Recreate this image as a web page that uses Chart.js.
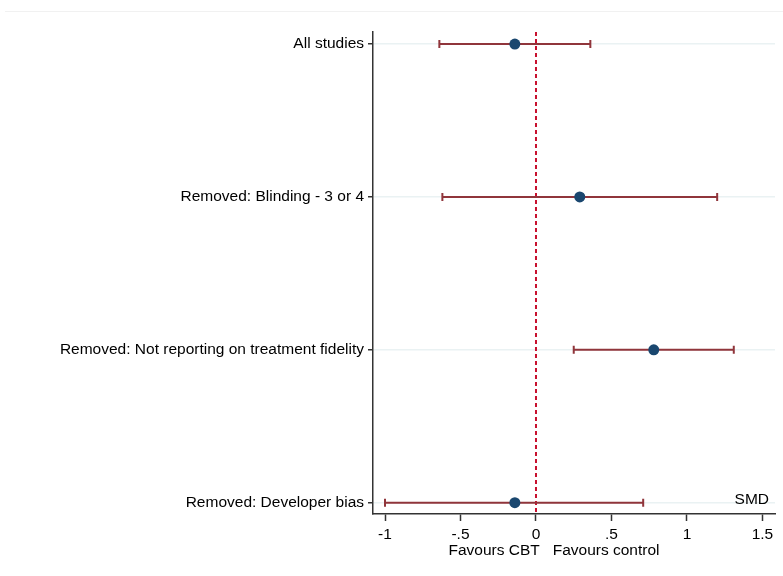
<!DOCTYPE html>
<html>
<head>
<meta charset="utf-8">
<script src="https://cdn.jsdelivr.net/npm/chart.js@4/dist/chart.umd.min.js"></script>
<style>
  html, body { margin: 0; padding: 0; background: #ffffff; }
  #wrap { width: 783px; height: 576px; position: relative; }
</style>
</head>
<body>
<div id="wrap"><canvas id="forest" width="783" height="576"></canvas></div>
<script>
// Sensitivity analyses: pooled standardised mean difference with 95% CI
const studyLabels = [
  'All studies',
  'Removed: Blinding - 3 or 4',
  'Removed: Not reporting on treatment fidelity',
  'Removed: Developer bias'
];
const smd    = [-0.14, 0.29, 0.78, -0.14];
const ciLow  = [-0.64, -0.62, 0.25, -1.00];
const ciHigh = [0.36, 1.20, 1.31, 0.71];

const xTickValues = [-1, -0.5, 0, 0.5, 1, 1.5];
const xTickLabels = ['-1', '-.5', '0', '.5', '1', '1.5'];
const xTitle = 'Favours CBT   Favours control';
const effectLabel = 'SMD';

const FONT = "'Liberation Sans', Arial, Helvetica, sans-serif";
const COL_POINT = '#1a476f';
const COL_CI = '#90353b';
const COL_NULL = '#c8102e';
const COL_GRID = '#eaf2f3';
const COL_AXIS = '#333333';

const rows = studyLabels.map((_, i) => i + 1);

const forestPlugin = {
  id: 'forestMarks',
  beforeDraw(chart) {
    const ctx = chart.ctx;
    ctx.save();
    ctx.fillStyle = '#ffffff';
    ctx.fillRect(0, 0, chart.width, chart.height);
    ctx.strokeStyle = '#f1f1f1';
    ctx.lineWidth = 1;
    ctx.beginPath();
    ctx.moveTo(5, 11.5);
    ctx.lineTo(chart.width, 11.5);
    ctx.stroke();
    ctx.restore();
  },
  beforeDatasetsDraw(chart) {
    const ctx = chart.ctx;
    const xs = chart.scales.x, ys = chart.scales.y;
    const area = chart.chartArea;
    ctx.save();
    // null-effect reference line
    const x0 = xs.getPixelForValue(0);
    ctx.strokeStyle = COL_NULL;
    ctx.lineWidth = 2;
    ctx.setLineDash([4, 3]);
    ctx.beginPath();
    ctx.moveTo(x0, area.top);
    ctx.lineTo(x0, area.bottom);
    ctx.stroke();
    ctx.setLineDash([]);
    // confidence intervals with end caps
    ctx.strokeStyle = COL_CI;
    ctx.lineWidth = 2;
    rows.forEach((r, i) => {
      const y = ys.getPixelForValue(r);
      const xl = xs.getPixelForValue(ciLow[i]);
      const xh = xs.getPixelForValue(ciHigh[i]);
      ctx.beginPath();
      ctx.moveTo(xl, y); ctx.lineTo(xh, y);
      ctx.moveTo(xl, y - 4); ctx.lineTo(xl, y + 4);
      ctx.moveTo(xh, y - 4); ctx.lineTo(xh, y + 4);
      ctx.stroke();
    });
    ctx.restore();
  },
  afterDraw(chart) {
    const ctx = chart.ctx;
    const xs = chart.scales.x, ys = chart.scales.y;
    const area = chart.chartArea;
    ctx.save();
    ctx.fillStyle = '#000000';
    ctx.font = '15.5px ' + FONT;
    ctx.textBaseline = 'middle';
    ctx.textAlign = 'center';
    ctx.fillText(xTitle, xs.getPixelForValue(0) + 18, 551);
    ctx.textAlign = 'right';
    ctx.fillText(effectLabel, area.right - 6, ys.getPixelForValue(rows[rows.length - 1]) - 3);
    ctx.restore();
  }
};

new Chart(document.getElementById('forest'), {
  type: 'scatter',
  data: {
    datasets: [{
      data: rows.map((r, i) => ({ x: smd[i], y: r })),
      backgroundColor: COL_POINT,
      borderColor: COL_POINT,
      borderWidth: 0,
      pointRadius: 5.5,
      pointHoverRadius: 5.5
    }]
  },
  options: {
    responsive: false,
    animation: false,
    events: [],
    layout: { padding: { top: 32, right: 8, left: 0, bottom: 0 } },
    plugins: { legend: { display: false }, tooltip: { enabled: false } },
    scales: {
      x: {
        type: 'linear',
        min: -1.0795,
        max: 1.583,
        afterBuildTicks(scale) { scale.ticks = xTickValues.map(v => ({ value: v })); },
        afterFit(scale) { scale.height = 62; },
        ticks: {
          color: '#000000',
          font: { family: FONT, size: 15.5 },
          padding: 4,
          maxRotation: 0,
          autoSkip: false,
          callback: (v) => xTickLabels[xTickValues.indexOf(v)]
        },
        grid: {
          drawOnChartArea: false,
          drawTicks: true,
          tickLength: 7,
          tickColor: COL_AXIS,
          tickWidth: 1.5
        },
        border: { display: true, color: COL_AXIS, width: 1.5 }
      },
      y: {
        type: 'linear',
        reverse: true,
        min: 0.921,
        max: 4.074,
        afterBuildTicks(scale) { scale.ticks = rows.map(v => ({ value: v })); },
        afterFit(scale) { scale.width = 373; },
        ticks: {
          color: '#000000',
          font: { family: FONT, size: 15.5 },
          padding: 4,
          autoSkip: false,
          callback: (v) => studyLabels[v - 1]
        },
        grid: {
          color: COL_GRID,
          lineWidth: 1.5,
          drawTicks: true,
          tickLength: 5,
          tickColor: COL_AXIS,
          tickWidth: 1.5
        },
        border: { display: true, color: COL_AXIS, width: 1.5 }
      }
    }
  },
  plugins: [forestPlugin]
});
</script>
</body>
</html>
